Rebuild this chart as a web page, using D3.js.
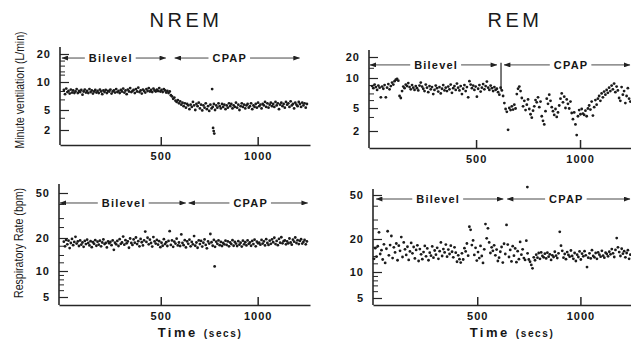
<!DOCTYPE html>
<html>
<head>
<meta charset="utf-8">
<script src="https://cdn.jsdelivr.net/npm/d3@7"></script>
<style>
	html, body { margin: 0; padding: 0; background: #fff; }
	svg { display: block; }
	.tick text {
		font-family: "Liberation Sans", Arial, Helvetica, sans-serif;
		font-weight: bold;
		font-size: 11px;
		letter-spacing: 1px;
		fill: #161616;
	}
	.tick line, .domain { stroke: #262626; }
	.phase { font-family: "Liberation Sans", Arial, sans-serif; font-weight: bold; font-size: 11px; letter-spacing: 1.2px; fill: #161616; }
</style>
</head>
<body>
<div id="chart"></div>
<script>
const W = 631, H = 339;

// breath samples every 6 s
const timeStep = 6;

// NREM, minute ventilation (L/min)
const nremVentilation = [
	8.2, 7.4, 8.5, 7.8, 8.0, 7.5, 8.3, 7.7, 8.1, 7.6,
	7.9, 8.4, 7.6, 8.0, 7.8, 8.2, 7.3, 7.9, 8.3, 7.7,
	8.0, 7.6, 8.4, 7.8, 8.1, 7.5, 7.9, 8.2, 7.7, 8.0,
	7.6, 8.3, 7.9, 7.4, 8.1, 7.8, 8.2, 7.6, 8.0, 7.9,
	8.3, 7.5, 7.9, 8.1, 7.7, 8.4, 7.8, 8.0, 7.6, 8.2,
	7.9, 8.5, 7.7, 8.1, 7.4, 8.3, 7.9, 8.6, 7.8, 8.0,
	8.2, 7.6, 8.4, 7.9, 8.7, 7.8, 8.1, 7.5, 8.3, 8.0,
	7.7, 8.4, 8.0, 8.6, 7.9, 8.2, 7.8, 8.5, 8.1, 7.9,
	8.3, 8.0, 8.6, 7.9, 8.2, 7.8, 8.4, 8.1, 7.7, 8.0,
	7.6, 7.9, 7.2, 7.0, 6.6, 6.8, 6.3, 6.1, 6.4, 5.9,
	6.2, 5.7, 6.0, 5.5, 5.9, 5.3, 5.8, 5.6, 5.1, 5.7,
	5.4, 6.1, 5.6, 5.0, 5.8, 5.5, 6.0, 5.2, 5.7, 4.9,
	5.6, 5.3, 5.9, 5.1, 5.5, 4.8, 5.7, 5.2, 5.4, 5.8,
	5.0, 5.6, 5.3, 5.9, 5.5, 5.2, 5.8, 5.4, 5.7, 5.1,
	5.6, 5.3, 5.9, 5.5, 5.8, 5.2, 5.6, 5.4, 6.0, 5.3,
	5.7, 5.0, 5.5, 5.9, 5.4, 5.7, 5.2, 5.6, 5.8, 5.3,
	5.5, 5.9, 5.1, 5.6, 5.4, 5.8, 5.3, 6.0, 5.5, 5.7,
	5.2, 5.8, 5.6, 6.1, 5.4, 5.9, 5.3, 5.7, 6.0, 5.5,
	5.8, 5.4, 6.1, 5.6, 5.9, 5.1, 5.7, 6.0, 5.5, 5.8,
	5.3, 6.1, 5.7, 5.9, 5.4, 6.2, 5.6, 5.8, 5.2, 6.0,
	5.7, 5.5, 6.1, 5.8, 5.4, 6.0, 5.6, 5.9, 5.3, 5.8
];
// off-rhythm points [time, value]
const nremVentilationExtra = [[765, 8.4], [770, 2.2], [773, 1.9], [776, 1.7]];

// REM, minute ventilation (L/min)
const remVentilation = [
	8.3, 7.9, 8.6, 8.1, 7.6, 8.4, 8.0, 6.4, 8.2, 7.8,
	8.5, 6.4, 8.0, 8.7, 7.7, 8.3, 9.0, 8.6, 9.3, 9.6,
	9.8, 9.4, 6.6, 6.3, 7.4, 8.2, 7.9, 8.6, 8.3, 8.9,
	8.1, 7.7, 8.5, 8.0, 7.6, 8.3, 7.9, 7.5, 8.4, 9.0,
	8.2, 7.8, 7.4, 8.6, 8.0, 7.2, 8.3, 7.7, 8.1, 6.9,
	7.6, 8.4, 7.9, 7.3, 8.1, 7.0, 7.8, 8.5, 7.5, 8.0,
	7.4, 8.2, 7.7, 8.6, 7.1, 7.9, 8.3, 7.6, 8.8, 8.0,
	7.5, 8.3, 6.9, 7.8, 8.5, 7.4, 8.1, 6.4, 9.3, 8.6,
	7.9, 8.4, 7.6, 8.2, 6.5, 7.8, 8.5, 7.3, 8.0, 8.7,
	7.7, 8.3, 9.2, 8.0, 7.6, 8.4, 7.9, 7.4, 8.1, 7.6,
	7.8, 7.2, 6.8, 8.0, 7.5, 6.6, 5.6, 4.8, 4.3, 2.1,
	5.0, 4.6, 5.2, 4.7, 5.4, 4.9, 6.9, 7.8, 8.2, 7.4,
	6.3, 5.2, 5.9, 4.6, 5.4, 6.1, 4.8, 3.9, 3.4, 4.5,
	5.2, 6.0, 5.7, 6.4, 5.1, 5.8, 3.6, 3.0, 2.6, 4.4,
	6.2, 5.5, 6.8, 5.9, 5.1, 4.4, 3.8, 4.8, 3.5, 4.2,
	5.3, 6.2, 7.0, 5.7, 6.5, 5.0, 6.1, 5.5, 4.9, 5.8,
	4.1, 3.2, 4.2, 2.6, 1.7, 3.6, 4.6, 3.9, 4.8, 4.0,
	3.8, 4.5, 3.6, 4.9, 5.3, 4.7, 5.8, 3.7, 5.1, 6.0,
	5.4, 6.2, 6.6, 5.9, 7.0, 6.4, 7.3, 6.8, 7.6, 7.1,
	8.0, 7.4, 8.4, 7.7, 8.8, 7.2, 8.2, 7.5, 6.3, 5.9,
	8.1, 6.8, 7.4, 5.6, 6.6, 7.9, 6.2, 5.8
];
const remVentilationExtra = [];

// NREM, respiratory rate (bpm)
const nremRate = [
	18.5, 16.8, 19.2, 17.5, 18.9, 16.2, 18.0, 19.6, 17.2, 18.4,
	20.5, 17.8, 18.6, 16.9, 19.0, 17.4, 18.2, 16.6, 18.8, 17.6,
	19.3, 18.0, 17.1, 18.7, 16.5, 18.3, 17.7, 19.1, 17.0, 18.5,
	17.4, 18.9, 16.8, 18.2, 19.4, 17.6, 18.0, 16.4, 18.6, 17.9,
	18.4, 17.2, 19.0, 15.6, 18.1, 17.5, 18.8, 16.9, 19.5, 17.7,
	18.2, 20.6, 17.4, 19.1, 17.9, 18.6, 16.3, 19.8, 18.0, 17.3,
	19.4, 18.1, 20.2, 17.6, 18.7, 16.8, 19.6, 18.3, 17.1, 19.0,
	22.8, 18.4, 20.1, 17.5, 19.3, 18.0, 16.7, 20.4, 18.6, 17.8,
	19.2, 17.4, 18.7, 16.5, 18.1, 17.0, 19.5, 17.6, 18.3, 16.9,
	18.8, 23.0, 17.3, 19.0, 16.6, 18.5, 17.8, 19.7, 17.1, 18.2,
	16.9, 21.5, 18.0, 17.2, 19.1, 16.4, 18.6, 17.7, 19.3, 16.8,
	18.4, 17.5, 20.8, 17.0, 18.2, 16.3, 19.0, 17.6, 18.8, 16.7,
	18.1, 19.4, 17.3, 16.1, 18.6, 17.8, 21.7, 18.3, 17.0, 19.2,
	16.6, 18.5, 17.7, 19.0, 17.2, 18.4, 16.9, 18.0, 17.5, 18.9,
	17.3, 18.6, 16.8, 18.2, 17.6, 19.1, 17.0, 18.4, 17.8, 16.9,
	18.7, 17.4, 18.1, 16.7, 18.9, 17.5, 18.3, 17.1, 19.0, 17.7,
	18.2, 17.0, 18.8, 17.6, 19.3, 16.8, 18.5, 17.9, 18.1, 17.4,
	19.2, 17.8, 18.6, 17.1, 19.5, 18.0, 17.3, 18.9, 17.7, 19.4,
	18.3, 20.1, 17.6, 18.8, 17.2, 19.6, 18.1, 20.3, 17.9, 18.7,
	19.0, 17.5, 18.6, 17.9, 19.8, 18.2, 17.4, 19.3, 18.5, 20.2,
	18.0, 19.1, 17.6, 18.8, 19.5, 17.8, 18.4, 19.2, 17.5, 18.6
];
const nremRateExtra = [[778, 11.0]];

// REM, respiratory rate (bpm)
const remRate = [
	13.2, 16.5, 13.8, 17.2, 23.0, 14.6, 15.8, 13.0, 17.9, 12.1,
	16.3, 23.5, 14.2, 17.6, 21.3, 13.4, 16.8, 15.1, 18.2, 12.8,
	17.4, 15.6, 20.8, 13.7, 18.6, 16.1, 14.3, 17.0, 12.9, 15.4,
	18.4, 14.8, 16.9, 13.3, 15.9, 17.5, 12.6, 16.2, 14.5, 13.1,
	15.2, 17.3, 13.9, 16.4, 12.8, 15.0, 14.1, 17.1, 13.5, 15.7,
	14.4, 16.6, 13.2, 15.5, 18.6, 14.0, 16.2, 15.1, 17.8, 13.8,
	16.0, 14.6, 17.4, 15.3, 13.6, 16.8, 15.0, 12.4, 14.2, 13.1,
	12.2, 14.8, 13.0, 16.5, 15.4, 18.2, 14.1, 25.8, 24.2, 17.6,
	19.4, 14.3, 16.6, 12.7, 15.2, 13.4, 17.3, 14.0, 12.1, 16.1,
	27.3, 20.3, 25.0, 18.6, 14.9, 16.8, 15.6, 17.5, 14.2, 16.0,
	12.6, 13.5, 15.3, 16.9, 12.2, 18.1, 14.6, 26.8, 17.8, 13.7,
	15.9, 12.5, 17.2, 14.1, 16.4, 12.3, 15.5, 13.1, 18.8, 14.4,
	16.1, 13.4, 12.9, 19.3, 14.8, 13.0, 12.4, 11.6, 10.8, 13.6,
	12.8, 14.4, 13.5, 14.9, 13.2, 15.1, 14.0, 13.6, 14.7, 13.3,
	15.0, 13.8, 14.5, 12.9, 14.2, 13.7, 15.3, 14.1, 13.4, 14.8,
	23.2, 17.4, 15.6, 13.5, 14.6, 13.1, 15.2, 14.3, 13.8, 15.7,
	14.0, 13.2, 14.9, 12.6, 14.4, 13.7, 15.4, 13.0, 14.7, 13.9,
	15.5, 14.2, 11.1, 13.5, 14.8, 13.3, 15.8, 14.0, 13.6, 14.9,
	13.2, 15.1, 14.4, 13.8, 15.6, 14.1, 13.5, 15.0, 14.6, 13.9,
	15.3, 14.5, 16.2, 14.8, 13.7, 15.9, 20.4, 16.8, 15.2, 14.0,
	16.3, 14.7, 15.5, 13.6, 14.9, 15.8, 13.2, 14.4
];
const remRateExtra = [[743, 59]];

// axes
const xTicks = [500, 1000];
const ventilationTicks = [2, 5, 10, 20];
const rateTicks = [5, 10, 20, 50];
const phaseNames = ["Bilevel", "CPAP"];

const svg = d3.select("#chart")
	.append("svg")
	.attr("width", W)
	.attr("height", H)
	.attr("viewBox", `0 0 ${W} ${H}`);

svg.append("defs").html(`
	<marker id="arrow" viewBox="0 0 8 6" refX="7.5" refY="3" markerWidth="7" markerHeight="5"
		markerUnits="userSpaceOnUse" orient="auto-start-reverse">
		<path d="M0,0 L8,3 L0,6 Z" fill="#222"/>
	</marker>
`);

const panels = [
	{
		values: nremVentilation, extra: nremVentilationExtra,
		yTicks: ventilationTicks, yMinor: [17, 15, 13, 12, 8, 6.5, 3.5],
		xDomain: [-20, 1270], xRange: [60, 310],
		yPos: [130, 110, 82, 54], yTop: 47, yBottom: 145,
		phaseSpans: [[-10, 526], [572, 1216]], phaseLabelAt: [242, 856], phaseLevel: 18.1
	},
	{
		values: remVentilation, extra: remVentilationExtra,
		yTicks: ventilationTicks, yMinor: [14, 8.5, 7, 6, 3.5],
		xDomain: [-15, 1250], xRange: [369, 632],
		yPos: [131, 108, 78, 57], yTop: 50, yBottom: 148,
		phaseSpans: [[-12, 600], [635, 1260]], phaseLabelAt: [308, 957], phaseLevel: 15.4,
		divider: [620, 16.6, 7.6]
	},
	{
		values: nremRate, extra: nremRateExtra,
		yTicks: rateTicks, yMinor: [40, 30, 25, 17, 14, 12, 9, 8, 7, 6],
		xDomain: [-25, 1270], xRange: [59, 310],
		yPos: [297, 271, 238, 193], yTop: 184, yBottom: 305,
		phaseSpans: [[-20, 629], [644, 1258]], phaseLabelAt: [309, 964], phaseLevel: 40.8
	},
	{
		values: remRate, extra: remRateExtra,
		yTicks: rateTicks, yMinor: [40, 30, 25, 17, 14, 12, 9, 8, 7, 6],
		xDomain: [-5, 1250], xRange: [373, 632],
		yPos: [298, 272, 239, 195], yTop: 189, yBottom: 305,
		phaseSpans: [[10, 626], [645, 1260]], phaseLabelAt: [311, 932], phaseLevel: 46
	}
];

panels.forEach(drawPanel);

function drawPanel(p) {
	const x = d3.scaleLinear().domain(p.xDomain).range(p.xRange);
	// the scan's value axis is log-like but uneven, so each labelled tick keeps its own place
	const y = d3.scaleLog().domain(p.yTicks).range(p.yPos);

	const g = svg.append("g").attr("class", "panel");

	// x axis, ticks pointing up into the plot
	g.append("g")
		.attr("transform", `translate(0, ${p.yBottom})`)
		.call(
			d3.axisBottom(x)
				.tickValues(xTicks)
				.tickSize(-8)
				.tickSizeOuter(0)
				.tickPadding(7)
				.tickFormat(d3.format("d")),
		)
		.call((a) => a.select(".domain").attr("stroke-width", 1.6))
		.call((a) => a.selectAll(".tick line").attr("stroke-width", 1.5));

	// y axis: labelled ticks
	g.append("g")
		.attr("transform", `translate(${p.xRange[0]}, 0)`)
		.call(d3.axisLeft(y).tickValues(p.yTicks).tickSize(-9).tickPadding(9).tickFormat(d3.format("d")))
		.call((a) => a.select(".domain").remove())
		.call((a) => a.selectAll(".tick text").attr("letter-spacing", "0.5px"))
		.call((a) => a.selectAll(".tick line").attr("stroke-width", 1.2));

	// y axis: minor ticks
	g.append("g")
		.attr("transform", `translate(${p.xRange[0]}, 0)`)
		.call(d3.axisLeft(y).tickValues(p.yMinor).tickSize(-5).tickFormat(() => ""))
		.call((a) => a.select(".domain").remove())
		.call((a) => a.selectAll(".tick line").attr("stroke-width", 1));

	g.append("line")
		.attr("x1", p.xRange[0]).attr("x2", p.xRange[0])
		.attr("y1", p.yTop).attr("y2", p.yBottom)
		.attr("stroke", "#262626")
		.attr("stroke-width", 1.6);

	// phase annotations
	const ly = y(p.phaseLevel);
	phaseNames.forEach((name, i) => {
		const cx = x(p.phaseLabelAt[i]);
		const label = g.append("text")
			.attr("class", "phase")
			.attr("x", cx)
			.attr("y", ly)
			.attr("text-anchor", "middle")
			.attr("dominant-baseline", "central")
			.text(name);
		const w = label.node().getComputedTextLength();

		const lineStyle = (sel) => sel
			.attr("stroke", "#333")
			.attr("stroke-width", 0.9)
			.attr("y1", ly).attr("y2", ly);

		g.append("line")
			.call(lineStyle)
			.attr("x1", cx - w / 2 - 4)
			.attr("x2", Math.max(x(p.phaseSpans[i][0]), p.xRange[0] + 1))
			.attr("marker-end", "url(#arrow)");
		g.append("line")
			.call(lineStyle)
			.attr("x1", cx + w / 2 + 3)
			.attr("x2", Math.min(x(p.phaseSpans[i][1]), W - 1))
			.attr("marker-end", "url(#arrow)");
	});

	if (p.divider) {
		g.append("line")
			.attr("x1", x(p.divider[0])).attr("x2", x(p.divider[0]))
			.attr("y1", y(p.divider[1])).attr("y2", y(p.divider[2]))
			.attr("stroke", "#222")
			.attr("stroke-width", 1.2);
	}

	// breaths
	const points = p.values.map((v, i) => [i * timeStep, v]).concat(p.extra);
	g.append("g")
		.attr("class", "dots")
		.selectAll("circle")
		.data(points)
		.join("circle")
		.attr("cx", (d) => x(d[0]))
		.attr("cy", (d) => y(d[1]))
		.attr("r", 1.4)
		.attr("fill", "#1b1b1b");
}

// column titles
const titleFont = "'Liberation Sans', Arial, Helvetica, sans-serif";
[["NREM", 186], ["REM", 515]].forEach(([t, cx]) => {
	svg.append("text")
		.attr("x", cx)
		.attr("y", 27)
		.attr("text-anchor", "middle")
		.attr("font-family", titleFont)
		.attr("font-size", 20)
		.attr("letter-spacing", "3.5px")
		.attr("fill", "#1a1a1a")
		.text(t);
});

// y titles
[["Minute ventilation (L/min)", 19, 90, 117], ["Respiratory Rate (bpm)", 18, 243, 110]].forEach(([t, cx, cy, len]) => {
	svg.append("text")
		.attr("transform", `translate(${cx}, ${cy}) rotate(-90)`)
		.attr("text-anchor", "middle")
		.attr("dominant-baseline", "central")
		.attr("font-family", "'Liberation Sans Narrow', 'Arial Narrow', 'Liberation Sans', sans-serif")
		.attr("font-size", 13)
		.attr("textLength", len)
		.attr("lengthAdjust", "spacingAndGlyphs")
		.attr("fill", "#1a1a1a")
		.text(t);
});

// x titles
[200, 512].forEach((cx) => {
	const t = svg.append("text")
		.attr("x", cx)
		.attr("y", 337)
		.attr("text-anchor", "middle")
		.attr("font-family", titleFont)
		.attr("font-weight", "bold")
		.attr("fill", "#161616");
	t.append("tspan").attr("font-size", 13).attr("letter-spacing", "2.5px").text("Time ");
	t.append("tspan").attr("font-size", 10).attr("letter-spacing", "1.6px").text("(secs)");
});
</script>
</body>
</html>
